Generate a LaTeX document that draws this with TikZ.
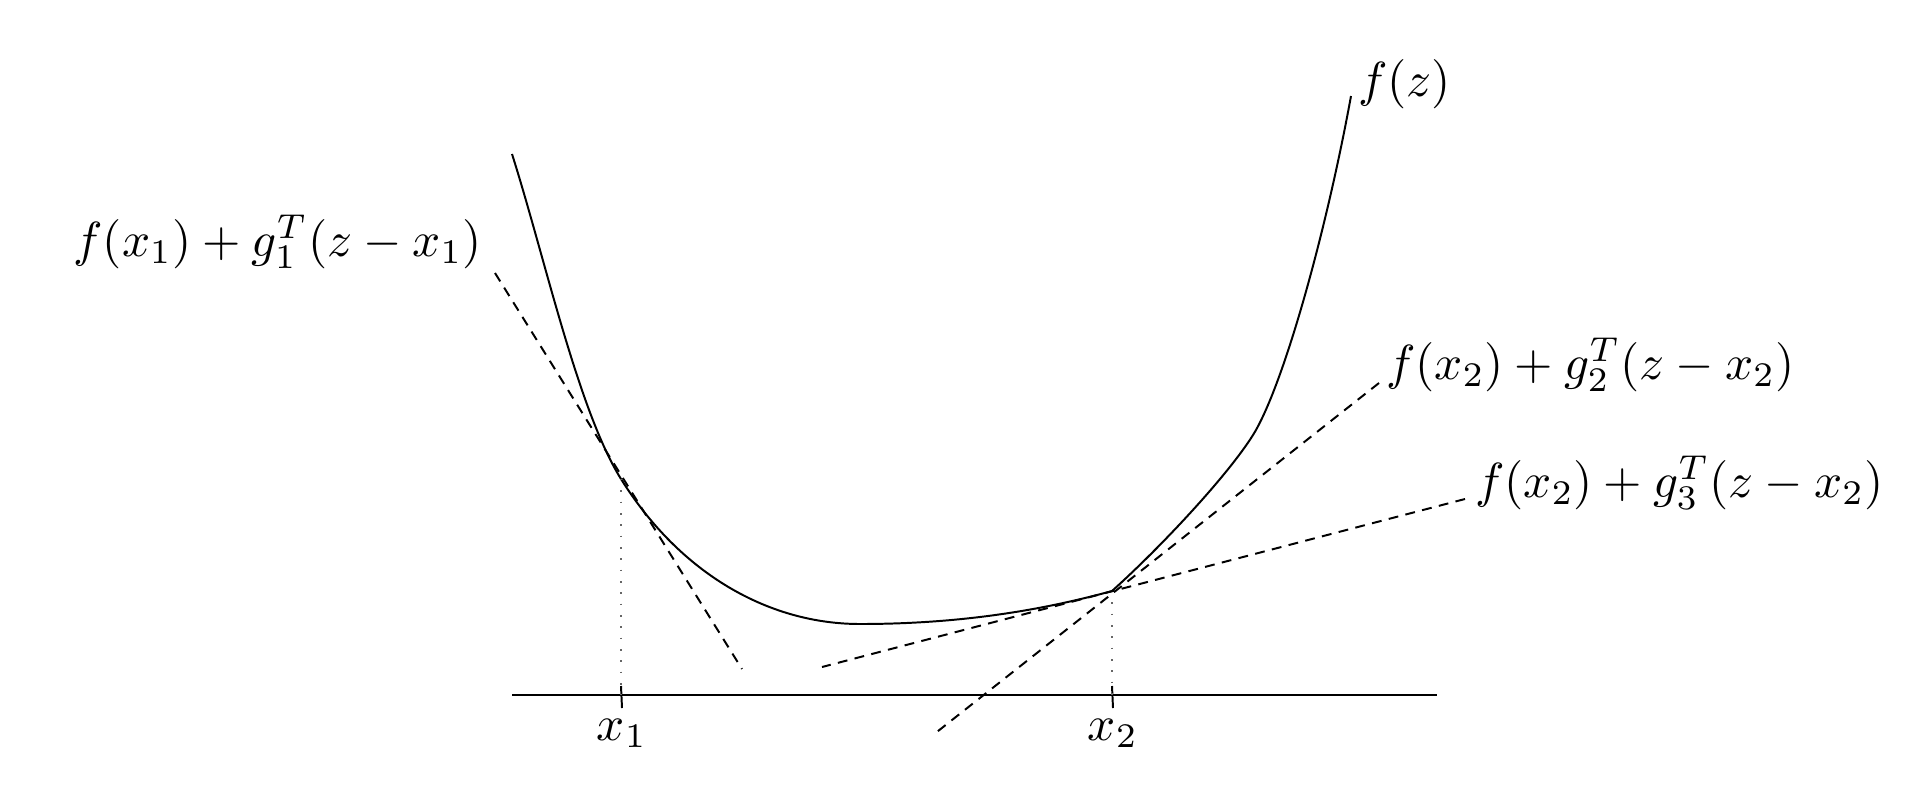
\documentclass[tikz,border=0pt]{standalone}
\usepackage{amsmath}
\usetikzlibrary{positioning}

\begin{document}
\begin{tikzpicture}[
  x=0.0713mm, y=-0.0713mm,
  node distance=2pt,
  curve/.style={line width=0.4pt},
  tangent/.style={dash pattern=on 2pt off 1.5pt, line width=0.4pt},
  guide/.style={dotted, line width=0.3pt, gray!80!black},
  lbl/.style={inner sep=0pt}
]
\useasboundingbox (0,0) rectangle (1926,792);

% points where the supporting lines touch
\coordinate (p1) at (621,479);
\coordinate (p2) at (1112,591);

% horizontal axis and ticks
\coordinate (axL) at (512,695);
\coordinate (axR) at (1437,695);
\draw (axL) -- (axR);
\coordinate (k1a) at (621,686);
\coordinate (k1b) at (622,708);
\coordinate (k2a) at (1112,686);
\coordinate (k2b) at (1113,708);
\draw (k1a) -- (k1b);
\draw (k2a) -- (k2b);
\node[lbl, below=of k1b] (lx1) {$x_1$};
\node[lbl, below=of k2b] (lx2) {$x_2$};

% the function
\coordinate (fz0) at (512,154);
\coordinate (fz1) at (1351,96);
\draw[curve] (fz0) .. controls (545,258) and (578,410) .. (p1)
  .. controls (681,575) and (770,624) .. (860,624)
  .. controls (950,624) and (1032,613) .. (p2)
  .. controls (1162,546) and (1228,475) .. (1253,435)
  .. controls (1283,387) and (1326,233) .. (fz1);
\node[lbl, anchor=west] (lfz) at (1357,84) {$f(z)$};

% drop lines
\draw[guide] (p1) -- (p1 |- axL);
\draw[guide] (p2) -- (p2 |- axL);

% supporting lines
\coordinate (t1a) at (495,273);
\coordinate (t1b) at (742,669);
\coordinate (t2a) at (1379,383);
\coordinate (t2b) at (933,735);
\coordinate (t3a) at (1465,499);
\coordinate (t3b) at (822,667);
\draw[tangent] (t1a) -- (t1b);
\draw[tangent] (t2a) -- (t2b);
\draw[tangent] (t3a) -- (t3b);

\node[lbl, anchor=east] (lt1) at (483,242) {$f(x_1)+g_1^T(z-x_1)$};
\node[lbl, anchor=west] (lt2) at (1385,365) {$f(x_2)+g_2^T(z-x_2)$};
\node[lbl, anchor=west] (lt3) at (1474,483) {$f(x_2)+g_3^T(z-x_2)$};

\end{tikzpicture}
\end{document}
